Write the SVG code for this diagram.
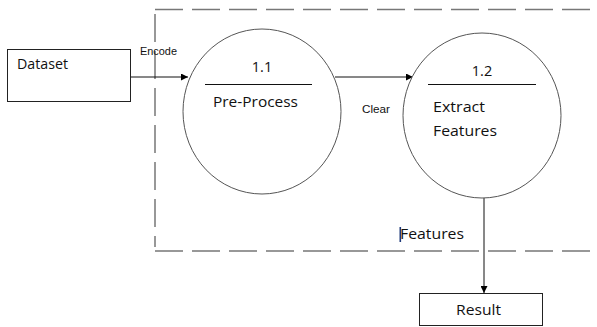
<svg xmlns="http://www.w3.org/2000/svg" width="597" height="327" viewBox="0 0 597 327">
  <defs>
    <marker id="arrow" viewBox="0 0 10 10" refX="10" refY="5" markerWidth="7" markerHeight="7" markerUnits="userSpaceOnUse" orient="auto">
      <path d="M0,0 L10,5 L0,10 z" fill="#000"/>
    </marker>
  </defs>
  <style>
    .bg { fill: #fff; }
    .box { fill: #fff; stroke: #222; stroke-width: 1; }
    .proc { fill: #fff; stroke: #555; stroke-width: 1; }
    .rule { stroke: #111; stroke-width: 1; }
    .bound { fill: none; stroke: #777; stroke-width: 1.5; stroke-dasharray: 28 9; }
    .flow { fill: none; stroke: #111; stroke-width: 1; marker-end: url(#arrow); }
    .t { font-family: "Open Sans", "Liberation Sans", sans-serif; font-size: 14.5px; fill: #111; }
    .s { font-family: "Liberation Sans", "Open Sans", sans-serif; font-size: 10.5px; fill: #111; }
  </style>
  <rect class="bg" x="0" y="0" width="597" height="327"/>

  <!-- process boundary -->
  <g id="boundary">
    <line class="bound" x1="155" y1="9.5" x2="597" y2="9.5"/>
    <line class="bound" x1="155" y1="14" x2="155" y2="247"/>
    <line class="bound" x1="155" y1="251" x2="597" y2="251"/>
  </g>

  <g id="connectors">
    <line class="flow" x1="130" y1="77" x2="188" y2="77"/>
    <line class="flow" x1="335" y1="77" x2="413" y2="77"/>
    <line class="flow" x1="484" y1="198" x2="484" y2="293"/>
    <text class="s" x="140" y="55" textLength="37" lengthAdjust="spacingAndGlyphs">Encode</text>
    <text class="s" x="362" y="113" textLength="28" lengthAdjust="spacingAndGlyphs">Clear</text>
    <text class="t" x="400" y="239" textLength="64" lengthAdjust="spacingAndGlyphs">Features</text>
    <rect x="399.5" y="227" width="1.6" height="15" fill="#1f3a7a"/>
  </g>

  <g id="dataset">
    <rect class="box" x="7.5" y="49.5" width="123" height="52"/>
    <text class="t" x="17" y="69" textLength="51" lengthAdjust="spacingAndGlyphs">Dataset</text>
  </g>

  <g id="p1">
    <ellipse class="proc" cx="262" cy="111.5" rx="79" ry="82.5"/>
    <line class="rule" x1="205" y1="84.5" x2="312" y2="84.5"/>
    <text class="t" x="262" y="72" text-anchor="middle">1.1</text>
    <text class="t" x="213" y="107" textLength="85" lengthAdjust="spacingAndGlyphs">Pre-Process</text>
  </g>

  <g id="p2">
    <ellipse class="proc" cx="482" cy="115.5" rx="79" ry="82.5"/>
    <line class="rule" x1="428" y1="84.5" x2="536" y2="84.5"/>
    <text class="t" x="482" y="76" text-anchor="middle">1.2</text>
    <text class="t" x="433" y="112" textLength="52" lengthAdjust="spacingAndGlyphs">Extract</text>
    <text class="t" x="433" y="136" textLength="64" lengthAdjust="spacingAndGlyphs">Features</text>
  </g>

  <g id="result">
    <rect class="box" x="419.5" y="293.5" width="123" height="32"/>
    <text class="t" x="456" y="315" textLength="45" lengthAdjust="spacingAndGlyphs">Result</text>
  </g>
</svg>
